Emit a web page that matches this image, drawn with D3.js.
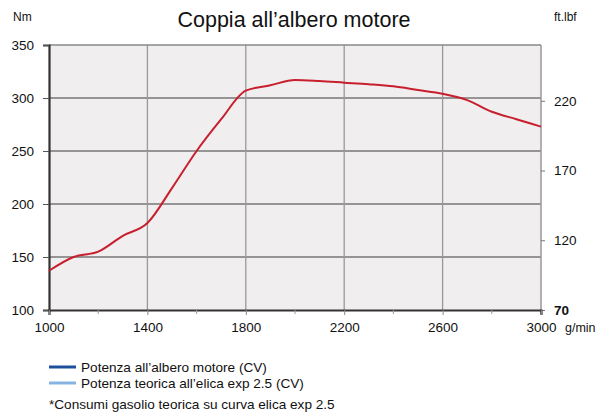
<!DOCTYPE html>
<html>
<head>
<meta charset="utf-8">
<script src="https://cdn.jsdelivr.net/npm/d3@7"></script>
<style>
  body { margin: 0; background: #fff; }
  text { font-family: "Liberation Sans", Arial, sans-serif; fill: #111; }
</style>
</head>
<body>
<svg id="chart" width="602" height="412"></svg>
<script>
// data
var rpm = [1000, 1100, 1200, 1300, 1400, 1500, 1600, 1700, 1800, 1900, 2000,
  2100, 2200, 2300, 2400, 2500, 2600, 2700, 2800, 2900, 3000];
var torque = [137, 150, 155, 170, 182, 215, 250, 280, 307, 312, 317,
  316, 314.5, 313, 311, 307.5, 304, 298, 287, 280, 273];
var leftTicks = [100, 150, 200, 250, 300, 350];
var rightTicks = [70, 120, 170, 220];
var xLabels = [1000, 1400, 1800, 2200, 2600, 3000];
var xMinor = [1200, 1600, 2000, 2400, 2800];
var legendItems = ["Potenza all\u2019albero motore (CV)", "Potenza teorica all\u2019elica exp 2.5 (CV)"];
var legendColors = ["#1d4f9c", "#86b4e2"];

var svg = d3.select("#chart");
var pLeft = 49, pRight = 541, pTop = 45, pBottom = 310;

var x = d3.scaleLinear().domain([1000, 3000]).range([pLeft, pRight]);
var y = d3.scaleLinear().domain([100, 350]).range([pBottom, pTop]);
var y2 = d3.scaleLinear().domain([70, 260]).range([pBottom, pTop]);
var fmt = d3.format("d");

// plot background
svg.append("rect")
  .attr("x", pLeft).attr("y", pTop)
  .attr("width", pRight - pLeft).attr("height", pBottom - pTop)
  .attr("fill", "#f0eeef");

// grid
svg.selectAll(".hgrid").data(leftTicks.slice(1, -1)).enter()
  .append("line")
  .attr("x1", pLeft).attr("x2", pRight)
  .attr("y1", function(d){ return y(d); }).attr("y2", function(d){ return y(d); })
  .attr("stroke", "#777").attr("stroke-width", 1.3);

svg.selectAll(".vgrid").data(xLabels.slice(1, -1)).enter()
  .append("line")
  .attr("y1", pTop).attr("y2", pBottom)
  .attr("x1", function(d){ return x(d); }).attr("x2", function(d){ return x(d); })
  .attr("stroke", "#999").attr("stroke-width", 1.3);

// frame top / right
svg.append("line").attr("x1", pLeft).attr("x2", pRight).attr("y1", pTop).attr("y2", pTop)
  .attr("stroke", "#888").attr("stroke-width", 1.3);
svg.append("line").attr("x1", pRight).attr("x2", pRight).attr("y1", pTop).attr("y2", pBottom + 4)
  .attr("stroke", "#999").attr("stroke-width", 1.5);

// left axis
var gl = svg.append("g").attr("transform", "translate(" + pLeft + ",0)")
  .call(d3.axisLeft(y).tickValues(leftTicks).tickFormat(fmt).tickSize(6).tickPadding(9));
gl.select(".domain").attr("stroke", "#333").attr("stroke-width", 2.2);
gl.selectAll(".tick line").attr("stroke", "#555");
gl.selectAll(".tick text").style("font-size", "13.5px").attr("fill", "#111");

// right axis
var gr = svg.append("g").attr("transform", "translate(" + pRight + ",0)")
  .call(d3.axisRight(y2).tickValues(rightTicks).tickFormat(fmt).tickSize(4).tickPadding(9));
gr.select(".domain").remove();
gr.selectAll(".tick line").attr("stroke", "#777");
gr.selectAll(".tick text").style("font-size", "13.5px").attr("fill", "#111")
  .style("font-weight", function(d){ return d === 70 ? "bold" : "normal"; });

// bottom axis
var gb = svg.append("g").attr("transform", "translate(0," + pBottom + ")")
  .call(d3.axisBottom(x).tickValues(xLabels).tickFormat(fmt).tickSize(5).tickPadding(7));
gb.select(".domain").attr("stroke", "#333").attr("stroke-width", 2.2);
gb.selectAll(".tick line").attr("stroke", "#888");
gb.selectAll(".tick text").style("font-size", "13.5px").attr("fill", "#111");
svg.selectAll(".minor").data(xMinor).enter()
  .append("line")
  .attr("x1", function(d){ return x(d); }).attr("x2", function(d){ return x(d); })
  .attr("y1", pBottom).attr("y2", pBottom + 4)
  .attr("stroke", "#999");

// torque curve
var line = d3.line()
  .x(function(d, i){ return x(rpm[i]); })
  .y(function(d){ return y(d); })
  .curve(d3.curveMonotoneX);
svg.append("path").datum(torque)
  .attr("d", line)
  .attr("fill", "none")
  .attr("stroke", "#c81f2e")
  .attr("stroke-width", 2);

// titles and unit labels
svg.append("text").attr("x", 294).attr("y", 27).attr("text-anchor", "middle")
  .style("font-size", "21.5px").text("Coppia all\u2019albero motore");
svg.append("text").attr("x", 13).attr("y", 21).style("font-size", "12px").text("Nm");
svg.append("text").attr("x", 554).attr("y", 21).style("font-size", "12px").text("ft.lbf");
svg.append("text").attr("x", 565).attr("y", 332).style("font-size", "12.5px").text("g/min");

// legend
var lg = svg.selectAll(".legend").data(legendItems).enter()
  .append("g")
  .attr("transform", function(d, i){ return "translate(49," + (367 + i * 16) + ")"; });
lg.append("line").attr("x1", 0).attr("x2", 27).attr("y1", 0).attr("y2", 0)
  .attr("stroke", function(d, i){ return legendColors[i]; }).attr("stroke-width", 3);
lg.append("text").attr("x", 32).attr("y", 4.5).style("font-size", "13.6px")
  .text(function(d){ return d; });

svg.append("text").attr("x", 49).attr("y", 409).style("font-size", "13.6px")
  .text("*Consumi gasolio teorica su curva elica exp 2.5");
</script>
</body>
</html>
